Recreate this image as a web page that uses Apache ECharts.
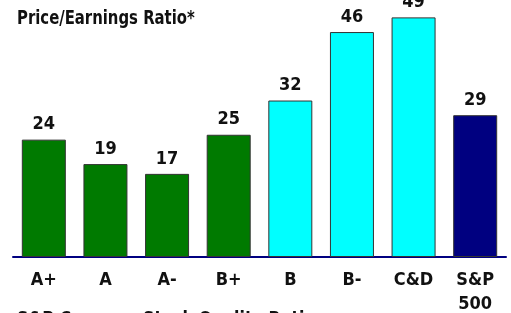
<!DOCTYPE html>
<html>
<head>
<meta charset="utf-8">
<script src="https://cdn.jsdelivr.net/npm/echarts@6/dist/echarts.min.js"></script>
<style>html,body{margin:0;padding:0;background:#fff;}#c{width:511px;height:313px;}</style>
</head>
<body>
<div id="c"></div>
<script>
var categories = ['A+', 'A', 'A-', 'B+', 'B', 'B-', 'C&D', 'S&P\n500'];
var values = [24, 19, 17, 25, 32, 46, 49, 29];
var barColors = ['#007a00', '#007a00', '#007a00', '#007a00', '#00ffff', '#00ffff', '#00ffff', '#000080'];
var titleText = 'Price/Earnings Ratio*';
var footText = 'S&P Common Stock Quality Ratings';

var FONT = '"DejaVu Sans Condensed", "Liberation Sans Narrow", sans-serif';
var chart = echarts.init(document.getElementById('c'), null, {renderer: 'canvas'});
chart.setOption({
  animation: false,
  backgroundColor: '#ffffff',
  grid: {left: 13, top: 12.5, width: 493, height: 244.5, outerBoundsMode: 'none', containLabel: false},
  xAxis: {
    type: 'category',
    data: categories,
    axisLine: {show: true, lineStyle: {color: '#000080', width: 2}},
    axisTick: {show: false},
    axisLabel: {
      fontFamily: FONT, fontWeight: 'bold', fontSize: 18, color: '#111',
      margin: 11, lineHeight: 24, interval: 0
    }
  },
  yAxis: {
    type: 'value', min: 0, max: 50,
    show: false, splitLine: {show: false}
  },
  series: [{
    type: 'bar',
    barWidth: 44,
    data: values.map(function (v, i) {
      return {value: v, itemStyle: {color: barColors[i]}};
    }),
    itemStyle: {borderColor: '#333', borderWidth: 1},
    label: {
      show: true, position: 'top', distance: 6,
      fontFamily: FONT, fontWeight: 'bold', fontSize: 18, color: '#111'
    }
  }],
  graphic: [
    {type: 'text', x: 17, y: 10, scaleX: 0.87,
     style: {text: titleText, font: 'bold 19px ' + FONT, fill: '#111'}},
    {type: 'text', x: 17, y: 310.5, scaleX: 0.93,
     style: {text: footText, font: 'bold 19px ' + FONT, fill: '#111'}}
  ]
});
</script>
</body>
</html>
